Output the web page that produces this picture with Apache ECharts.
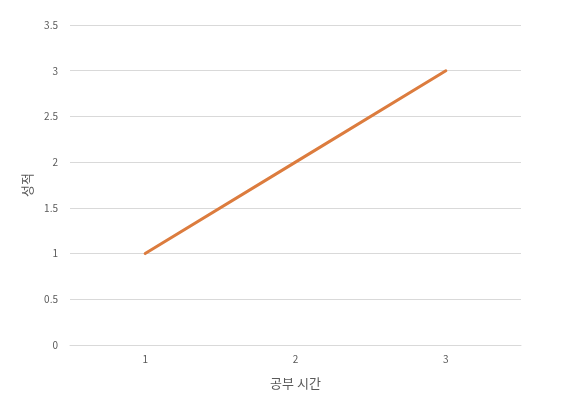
<!DOCTYPE html>
<html><head><meta charset="utf-8">
<script src="https://cdn.jsdelivr.net/npm/echarts@6/dist/echarts.min.js"></script>
<style>html,body{margin:0;padding:0;background:#fff}#c{width:562px;height:412px}</style>
</head><body><div id="c"></div>
<script>
const categories = ['1', '2', '3'];
const scores = [1, 2, 3];
const xName = '공부 시간';
const yName = '성적';

const chart = echarts.init(document.getElementById('c'));
const font = '"Noto Sans CJK KR", "Noto Sans", sans-serif';
chart.setOption({
  animation: false,
  grid: { left: 70, right: 41, top: 25, bottom: 67, containLabel: false },
  xAxis: {
    type: 'category', data: categories, boundaryGap: true,
    name: xName, nameLocation: 'middle', nameGap: 32,
    nameTextStyle: { fontSize: 13, color: '#595959', fontFamily: font },
    axisLine: { show: true, lineStyle: { color: '#d9d9d9' } },
    axisTick: { show: false },
    axisLabel: { fontSize: 10, color: '#595959', margin: 9, fontFamily: font }
  },
  yAxis: {
    type: 'value', min: 0, max: 3.5, interval: 0.5,
    name: yName, nameLocation: 'middle', nameGap: 36, nameRotate: 90,
    nameTextStyle: { fontSize: 13, color: '#595959', fontFamily: font },
    axisLine: { show: false }, axisTick: { show: false },
    axisLabel: { fontSize: 10, color: '#595959', margin: 12, fontFamily: font },
    splitLine: { lineStyle: { color: '#d9d9d9', width: 1 } }
  },
  series: [{
    type: 'line', data: scores, symbol: 'none',
    lineStyle: { color: '#DC7C3E', width: 3, cap: 'round' }
  }]
});
</script></body></html>
